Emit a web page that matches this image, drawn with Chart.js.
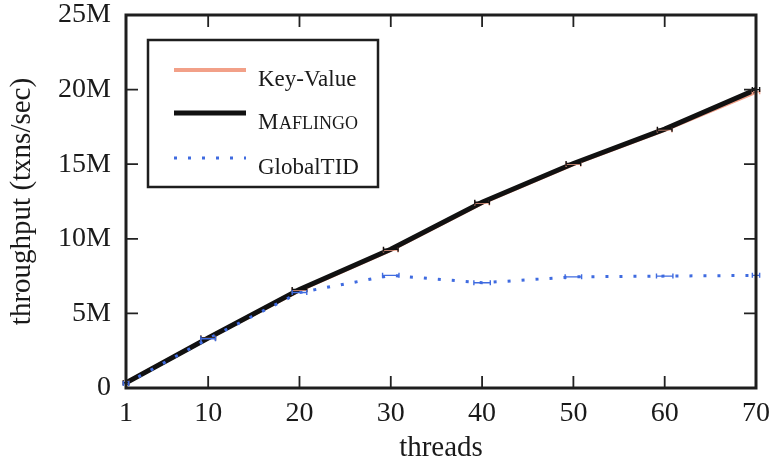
<!DOCTYPE html>
<html>
<head>
<meta charset="utf-8">
<script src="https://cdn.jsdelivr.net/npm/chart.js@4.4.1/dist/chart.umd.min.js"></script>
<style>
  html, body { margin: 0; padding: 0; background: #fff; }
  #wrap { width: 773px; height: 466px; position: relative; }
</style>
</head>
<body>
<div id="wrap"><canvas id="c" width="773" height="466"></canvas></div>
<script>
// ---- data ----
const threads = [1, 10, 20, 30, 40, 50, 60, 70];
const keyValue = [0.35, 3.35, 6.55, 9.25, 12.40, 15.00, 17.30, 19.85];  // millions txns/sec
const maflingo = [0.35, 3.35, 6.60, 9.30, 12.45, 15.05, 17.35, 20.00];
const globalTID = [0.30, 3.30, 6.40, 7.55, 7.05, 7.45, 7.50, 7.55];
const errKV  = [0.3, 0.8, 0.8, 0.8, 0.8, 0.8, 0.8, 0.4];   // small horizontal error extents (threads)
const errMaf = [0.3, 0.8, 0.8, 0.8, 0.8, 0.8, 0.8, 0.4];
const errGT  = [0.3, 0.8, 0.8, 0.9, 0.9, 0.9, 0.9, 0.4];
const xTicks = [1, 10, 20, 30, 40, 50, 60, 70];
const yTicks = [0, 5, 10, 15, 20, 25];
const yTickLabels = ['0', '5M', '10M', '15M', '20M', '25M'];
const seriesNames = ['Key-Value', 'Maflingo', 'GlobalTID'];

const SERIF = '"Liberation Serif", "DejaVu Serif", serif';
const COL_KV = '#f2a088';
const COL_MAF = '#111111';
const COL_GT = '#3f6be0';

const toPts = arr => threads.map((t, i) => ({ x: t, y: arr[i] }));

// frame + inward ticks + error bars + legend
const framePlugin = {
  id: 'frame',
  afterDatasetsDraw(chart) {
    const { ctx, chartArea: a, scales: { x, y } } = chart;
    ctx.save();
    // error markers
    const errs = [errKV, errMaf, errGT];
    [0, 1, 2].forEach(di => {
      const ds = chart.data.datasets[di];
      ctx.strokeStyle = ds.borderColor;
      ctx.lineWidth = 1.4;
      ctx.setLineDash([]);
      ds.data.forEach((p, i) => {
        const e = errs[di][i];
        const x0 = x.getPixelForValue(p.x - e), x1 = x.getPixelForValue(p.x + e);
        const py = y.getPixelForValue(p.y);
        ctx.beginPath();
        ctx.moveTo(x0, py); ctx.lineTo(x1, py);
        ctx.moveTo(x0, py - 2.5); ctx.lineTo(x0, py + 2.5);
        ctx.moveTo(x1, py - 2.5); ctx.lineTo(x1, py + 2.5);
        ctx.stroke();
      });
    });
    // ticks
    ctx.strokeStyle = '#222';
    ctx.lineWidth = 1.8;
    const tl = 12;
    xTicks.forEach(v => {
      const px = x.getPixelForValue(v);
      if (v === xTicks[0] || v === xTicks[xTicks.length - 1]) return;
      ctx.beginPath();
      ctx.moveTo(px, a.bottom); ctx.lineTo(px, a.bottom - tl);
      ctx.moveTo(px, a.top); ctx.lineTo(px, a.top + tl);
      ctx.stroke();
    });
    yTicks.forEach(v => {
      const py = y.getPixelForValue(v);
      if (v === yTicks[0] || v === yTicks[yTicks.length - 1]) return;
      ctx.beginPath();
      ctx.moveTo(a.left, py); ctx.lineTo(a.left + tl, py);
      ctx.moveTo(a.right, py); ctx.lineTo(a.right - tl, py);
      ctx.stroke();
    });
    // frame
    ctx.lineWidth = 3;
    ctx.strokeStyle = '#1e1e1e';
    ctx.strokeRect(a.left, a.top, a.right - a.left, a.bottom - a.top);

    // legend box
    const bx = 148, by = 40, bw = 230, bh = 147;
    ctx.fillStyle = '#fff';
    ctx.fillRect(bx, by, bw, bh);
    ctx.lineWidth = 2.5;
    ctx.strokeStyle = '#1e1e1e';
    ctx.strokeRect(bx, by, bw, bh);
    const rows = [
      { ds: 0, ly: 70, ty: 80 },
      { ds: 1, ly: 113, ty: 123 },
      { ds: 2, ly: 158, ty: 168 }
    ];
    rows.forEach(r => {
      const ds = chart.data.datasets[r.ds];
      ctx.strokeStyle = ds.borderColor;
      ctx.lineWidth = ds.borderWidth;
      ctx.setLineDash(ds.borderDash || []);
      ctx.beginPath();
      ctx.moveTo(174, r.ly); ctx.lineTo(246, r.ly);
      ctx.stroke();
      ctx.setLineDash([]);
      ctx.fillStyle = '#1a1a1a';
      ctx.textBaseline = 'middle';
      ctx.textAlign = 'left';
      const name = seriesNames[r.ds];
      if (r.ds === 1) {
        ctx.font = '23px ' + SERIF;
        ctx.fillText(name[0], 258, r.ty);
        const w = ctx.measureText(name[0]).width;
        ctx.font = '18px ' + SERIF;
        ctx.fillText(name.slice(1).toUpperCase(), 258 + w + 0.5, r.ty + 1);
      } else {
        ctx.font = '23px ' + SERIF;
        ctx.fillText(name, 258, r.ty);
      }
    });
    ctx.restore();
  }
};

new Chart(document.getElementById('c'), {
  type: 'line',
  data: {
    datasets: [
      { label: seriesNames[0], data: toPts(keyValue), borderColor: COL_KV, borderWidth: 4, pointRadius: 0, order: 2, tension: 0 },
      { label: seriesNames[1], data: toPts(maflingo), borderColor: COL_MAF, borderWidth: 5, pointRadius: 0, order: 1, tension: 0 },
      { label: seriesNames[2], data: toPts(globalTID), borderColor: COL_GT, borderWidth: 3, borderDash: [3, 11], pointRadius: 0, order: 0, tension: 0 }
    ]
  },
  options: {
    responsive: false,
    animation: false,
    events: [],
    layout: { padding: { left: 0, right: 17, top: 15, bottom: 0 } },
    plugins: { legend: { display: false }, tooltip: { enabled: false } },
    scales: {
      x: {
        type: 'linear', min: 1, max: 70,
        afterBuildTicks: s => { s.ticks = xTicks.map(v => ({ value: v })); },
        afterFit: s => { s.height = 78; s.paddingLeft = 0; s.paddingRight = 0; },
        grid: { display: false, drawTicks: false },
        border: { display: false },
        ticks: { color: '#1a1a1a', font: { family: SERIF, size: 28 }, padding: 9, maxRotation: 0, autoSkip: false, callback: v => String(v) },
        title: { display: true, text: 'threads', color: '#1a1a1a', font: { family: SERIF, size: 29, lineHeight: 1.2 }, padding: { top: 0, bottom: 0 } }
      },
      y: {
        type: 'linear', min: 0, max: 25,
        afterBuildTicks: s => { s.ticks = yTicks.map(v => ({ value: v })); },
        afterFit: s => { s.width = 126; s.paddingTop = 0; s.paddingBottom = 0; },
        grid: { display: false, drawTicks: false },
        border: { display: false },
        ticks: { color: '#1a1a1a', font: { family: SERIF, size: 28 }, padding: 15, autoSkip: false,
          callback: v => yTickLabels[yTicks.indexOf(v)] },
        title: { display: true, text: 'throughput (txns/sec)', color: '#1a1a1a', font: { family: SERIF, size: 29, lineHeight: 1.2 }, padding: { top: 5, bottom: 0 } }
      }
    }
  },
  plugins: [framePlugin]
});
</script>
</body>
</html>
